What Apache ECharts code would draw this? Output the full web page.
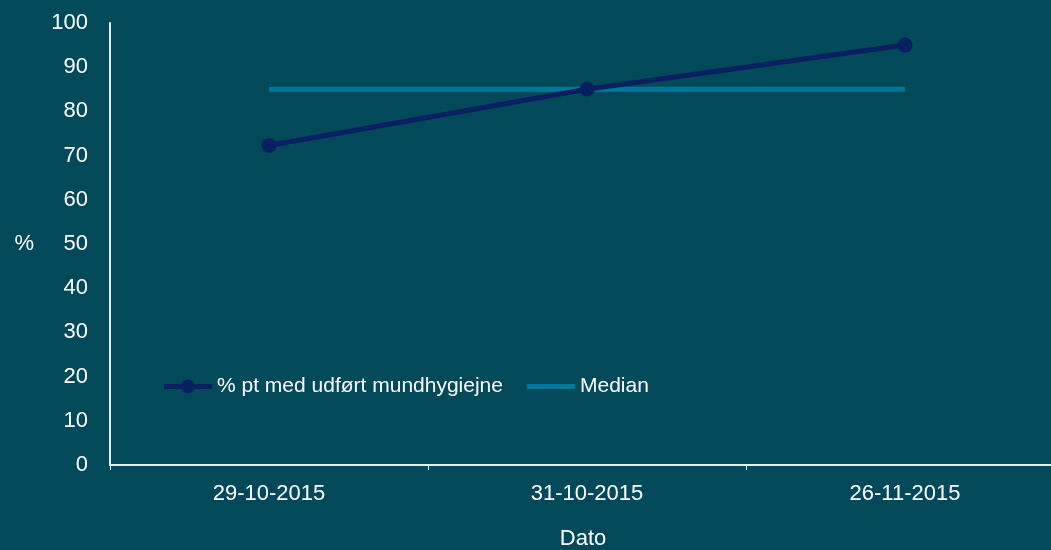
<!DOCTYPE html>
<html><head><meta charset="utf-8">
<script src="https://cdn.jsdelivr.net/npm/echarts@6/dist/echarts.min.js"></script>
<style>html,body{margin:0;padding:0;background:#024a59;}#c{width:1051px;height:550px;}</style>
</head><body><div id="c"></div>
<script>
const categories = ['29-10-2015', '31-10-2015', '26-11-2015'];
const pctValues = [72.3, 85, 95];
const medianValues = [85, 85, 85];
const seriesNames = ['% pt med udført mundhygiejne', 'Median'];

const chart = echarts.init(document.getElementById('c'));
const font = 'Liberation Sans, Arial, sans-serif';
const lineDotIcon = 'path://M0,5.5H17.5V10.5H0Z M30.5,5.5H48V10.5H30.5Z M31,8A7,7 0 1 1 17,8A7,7 0 1 1 31,8Z';
const lineIcon = 'path://M0,5.5H48V10.5H0Z';
chart.setOption({
  backgroundColor: '#024a59',
  animation: false,
  textStyle: { fontFamily: font },
  grid: { left: 110, width: 954, top: 23, bottom: 85, containLabel: false, outerBoundsMode: 'none' },
  legend: {
    left: 159, top: 371,
    itemWidth: 48, itemHeight: 16, itemGap: 24,
    textStyle: { color: '#ffffff', fontSize: 21, fontFamily: font },
    data: [
      { name: seriesNames[0], icon: lineDotIcon, itemStyle: { color: '#0a1f60' } },
      { name: seriesNames[1], icon: lineIcon, itemStyle: { color: '#00789c' } }
    ]
  },
  xAxis: {
    type: 'category', data: categories, boundaryGap: true,
    name: 'Dato', nameLocation: 'middle', nameGap: 63,
    nameTextStyle: { color: '#ffffff', fontSize: 22, fontFamily: font, padding: [0, 8, 0, 0] },
    axisLine: { lineStyle: { color: '#e6eef0', width: 2 } },
    axisTick: { show: true, length: 5, lineStyle: { color: '#e6eef0', width: 1 } },
    axisLabel: { color: '#ffffff', fontSize: 22, margin: 18, fontFamily: font },
    splitLine: { show: false }
  },
  yAxis: {
    type: 'value', min: 0, max: 100, interval: 10,
    name: '%', nameLocation: 'middle', nameGap: 76, nameRotate: 0,
    nameTextStyle: { color: '#ffffff', fontSize: 22, fontFamily: font, padding: [5, 0, 0, 0] },
    axisLine: { show: true, lineStyle: { color: '#e6eef0', width: 2 } },
    axisTick: { show: false },
    axisLabel: { color: '#ffffff', fontSize: 22, margin: 22, fontFamily: font, padding: [4, 0, 0, 0] },
    splitLine: { show: false }
  },
  series: [
    {
      name: seriesNames[1], type: 'line', data: medianValues,
      symbol: 'none', lineStyle: { color: '#00789c', width: 5 },
      itemStyle: { color: '#00789c' }, z: 2
    },
    {
      name: seriesNames[0], type: 'line', data: pctValues,
      symbol: 'circle', symbolSize: 15,
      lineStyle: { color: '#0a1f60', width: 5 },
      itemStyle: { color: '#0a1f60' }, z: 3
    }
  ]
});
</script></body></html>
